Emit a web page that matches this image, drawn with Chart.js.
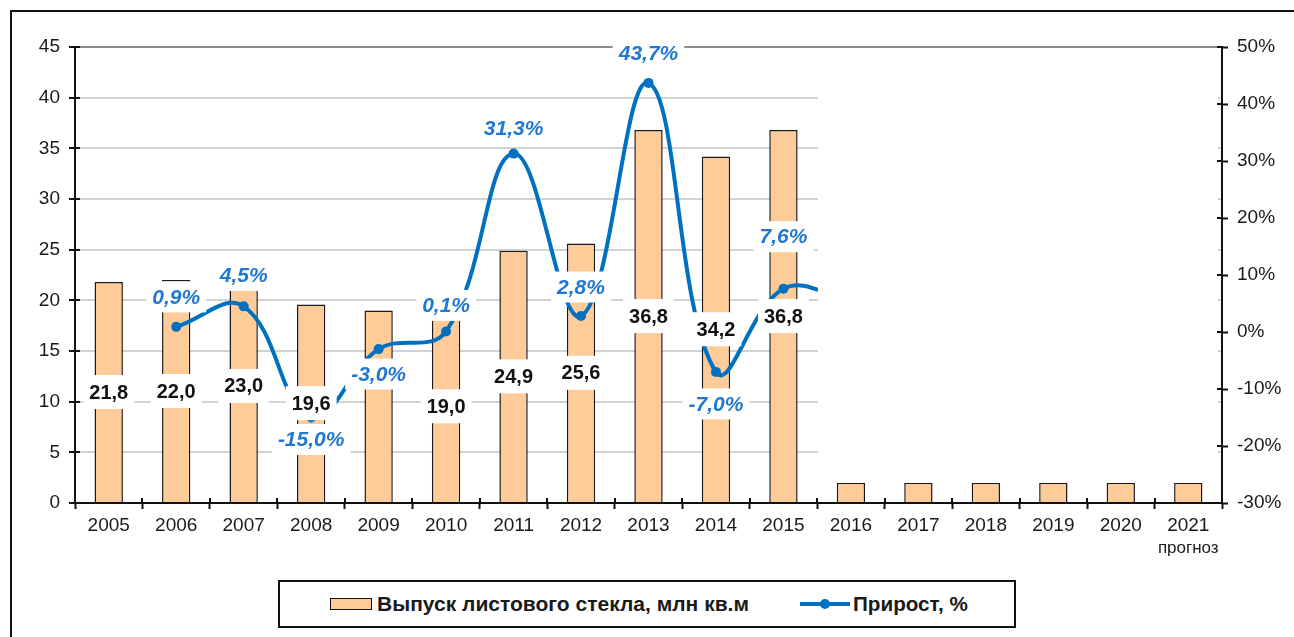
<!DOCTYPE html>
<html lang="ru">
<head>
<meta charset="utf-8">
<title>Выпуск листового стекла</title>
<script src="https://cdn.jsdelivr.net/npm/chart.js@4.4.1/dist/chart.umd.min.js"></script>
<style>
  html, body { margin: 0; padding: 0; background: #fff; width: 1294px; height: 637px; overflow: hidden; }
  #frame { position: absolute; left: 10px; top: 10px; width: 1400px; height: 700px; border: 2px solid #111; box-sizing: border-box; }
  #wrap { position: absolute; left: 0; top: 0; width: 1294px; height: 565px; }
  #legend {
    position: absolute; left: 278px; top: 580px; width: 738px; height: 48px;
    border: 2px solid #111; box-sizing: border-box; background: #fff;
    font-family: 'Liberation Sans', Arial, sans-serif; font-weight: bold;
    font-size: 21px; color: #1a1a1a;
  }
  #legend .item { position: absolute; top: 0; height: 44px; display: flex; align-items: center; }
  #legend .txt { display: inline-block; transform-origin: 0 50%; white-space: nowrap; }
  .swatch { width: 40px; height: 10px; background: #ffcc99; border: 1.5px solid #111; margin-right: 5px; }
  .lineSym { position: relative; width: 50px; height: 4px; background: #0070c0; margin-right: 3px; }
  .lineSym::after { content: ''; position: absolute; left: 20px; top: -3px; width: 10px; height: 10px; border-radius: 50%; background: #0070c0; }
</style>
</head>
<body>
<div id="frame"></div>
<div id="wrap"><canvas id="glassChart"></canvas></div>
<div id="legend">
  <div class="item" style="left:50px"><span class="swatch"></span><span class="txt" data-w="372">Выпуск листового стекла, млн кв.м</span></div>
  <div class="item" style="left:520px"><span class="lineSym"></span><span class="txt" data-w="115">Прирост, %</span></div>
</div>
<script>
const years = ['2005', '2006', '2007', '2008', '2009', '2010', '2011', '2012', '2013',
  '2014', '2015', '2016', '2017', '2018', '2019', '2020', '2021'];
// выпуск, млн кв.м (2016-2021 видны только нижние части столбцов)
const glassOutput = [21.8, 22.0, 23.0, 19.6, 19.0, 19.0, 24.9, 25.6, 36.8, 34.2, 36.8, 2, 2, 2, 2, 2, 2];
// прирост, %
const growthPct = [null, 0.9, 4.5, -15.0, -3.0, 0.1, 31.3, 2.8, 43.7, -7.0, 7.6, 5.5, null, null, null, null, null];
const outputTicks = [0, 5, 10, 15, 20, 25, 30, 35, 40, 45];
const growthTicks = [-30, -20, -10, 0, 10, 20, 30, 40, 50];
const forecastYears = ['2016', '2017', '2018', '2019', '2020', '2021'];
const unlabeledOutput = ['2009'];
const forecastNote = 'прогноз';

// label layout: vertical shift of growth labels from their points, px
const growthLabelDy = [0, -30, -31, 22, 25, -26, -25, -29, -30, 32, -52, 0, 0, 0, 0, 0, 0];
const FONT = "'Liberation Sans', Arial, sans-serif";

const fmt = v => v.toFixed(1).replace('.', ',');

function boxLabel(ctx, text, x, y, size, style, color, padY) {
  ctx.font = `${style} ${size}px ${FONT}`;
  const w = ctx.measureText(text).width;
  ctx.fillStyle = '#fff';
  ctx.fillRect(x - w / 2 - 6, y - size / 2 - padY, w + 12, size + 2 * padY);
  ctx.fillStyle = color;
  ctx.textAlign = 'center';
  ctx.textBaseline = 'middle';
  ctx.fillText(text, x, y + 1);
}

const valueLabels = {
  id: 'valueLabels',
  afterDatasetsDraw(chart) {
    const ctx = chart.ctx;
    ctx.save();
    chart.getDatasetMeta(0).data.forEach((bar, i) => {
      if (unlabeledOutput.includes(years[i]) || forecastYears.includes(years[i])) return;
      boxLabel(ctx, fmt(glassOutput[i]), bar.x, (bar.y + bar.base) / 2, 20, 'bold', '#111', 7);
    });
    chart.getDatasetMeta(1).data.forEach((pt, i) => {
      if (growthPct[i] == null || forecastYears.includes(years[i])) return;
      boxLabel(ctx, fmt(growthPct[i]) + '%', pt.x, pt.y + growthLabelDy[i], 21, 'italic bold', '#1f78d1', 5);
    });
    ctx.restore();
  }
};

// белая заливка, закрывающая прогнозную часть
const forecastCover = {
  id: 'forecastCover',
  afterDatasetsDraw(chart) {
    const { ctx, scales: { x, y } } = chart;
    const l = x.getPixelForValue(10.51), r = x.getPixelForValue(16.44);
    const t = y.getPixelForValue(44.7), b = y.getPixelForValue(2);
    ctx.save();
    ctx.fillStyle = '#fff';
    ctx.fillRect(l, t, r - l, b - t);
    ctx.restore();
  }
};

const crossTicks = {
  id: 'crossTicks',
  afterDraw(chart) {
    const { ctx, chartArea: a, scales: { x, y, y1 } } = chart;
    ctx.save();
    ctx.strokeStyle = '#111';
    ctx.lineWidth = 2;
    ctx.beginPath();
    y.ticks.forEach(t => { const p = Math.round(y.getPixelForValue(t.value)); ctx.moveTo(a.left, p); ctx.lineTo(a.left + 5, p); });
    y1.ticks.forEach(t => { const p = Math.round(y1.getPixelForValue(t.value)); ctx.moveTo(a.right - 5, p); ctx.lineTo(a.right, p); });
    for (let i = 0; i <= years.length; i++) {
      const p = Math.round(x.getPixelForValue(i - 0.5));
      ctx.moveTo(p, a.bottom); ctx.lineTo(p, a.bottom - 5);
    }
    ctx.stroke();
    ctx.font = `17px ${FONT}`;
    ctx.fillStyle = '#1a1a1a';
    ctx.textAlign = 'center';
    ctx.textBaseline = 'middle';
    ctx.fillText(forecastNote, x.getPixelForValue(years.length - 1), a.bottom + 45);
    ctx.restore();
  }
};

Chart.defaults.font.family = FONT;

new Chart(document.getElementById('glassChart'), {
  type: 'bar',
  data: {
    labels: years,
    datasets: [
      {
        type: 'bar', label: 'Выпуск листового стекла, млн кв.м', data: glassOutput,
        backgroundColor: '#ffcc99', borderColor: '#1a1a1a', borderWidth: 1.5,
        barPercentage: 0.42, categoryPercentage: 1, yAxisID: 'y', order: 2,
      },
      {
        type: 'line', label: 'Прирост, %', data: growthPct,
        borderColor: '#0070c0', borderWidth: 4, tension: 0.4,
        pointRadius: 5, pointHoverRadius: 5, pointBackgroundColor: '#0070c0', pointBorderWidth: 0,
        yAxisID: 'y1', order: 1,
      },
    ],
  },
  options: {
    responsive: true, maintainAspectRatio: false, animation: false, events: [],
    layout: { padding: { top: 47, left: 0, right: 0, bottom: 0 } },
    plugins: { legend: { display: false }, tooltip: { enabled: false } },
    scales: {
      x: {
        offset: true,
        grid: { offset: true, drawOnChartArea: false, tickLength: 6, tickColor: '#111', tickWidth: 2 },
        border: { color: '#111', width: 2 },
        ticks: { color: '#1a1a1a', font: { size: 19 }, padding: 5, maxRotation: 0, autoSkip: false },
        afterFit: s => { s.height = 62; },
      },
      y: {
        position: 'left', min: 0, max: 45,
        afterBuildTicks: s => { s.ticks = outputTicks.map(v => ({ value: v })); },
        grid: {
          color: c => c.tick && c.tick.value === 45 ? '#8c8c8c' : '#d2d2d2',
          lineWidth: 2, tickLength: 6, tickColor: '#111', tickWidth: 2,
        },
        border: { color: '#111', width: 2 },
        ticks: { color: '#1a1a1a', font: { size: 19 }, padding: 9 },
        afterFit: s => { s.width = 75; },
      },
      y1: {
        position: 'right', min: -30, max: 50,
        afterBuildTicks: s => { s.ticks = growthTicks.map(v => ({ value: v })); },
        grid: { drawOnChartArea: false, tickLength: 6, tickColor: '#111', tickWidth: 2 },
        border: { color: '#111', width: 2 },
        ticks: { color: '#1a1a1a', font: { size: 19 }, padding: 9, callback: v => v + '%' },
        afterFit: s => { s.width = 72; },
      },
    },
  },
  plugins: [valueLabels, forecastCover, crossTicks],
});

// подгонка ширины текста легенды (в оригинале узкий шрифт)
document.querySelectorAll('#legend .txt').forEach(el => {
  const target = parseFloat(el.dataset.w);
  const w = el.getBoundingClientRect().width;
  if (w > 0) el.style.transform = `scaleX(${(target / w).toFixed(3)})`;
});
</script>
</body>
</html>
